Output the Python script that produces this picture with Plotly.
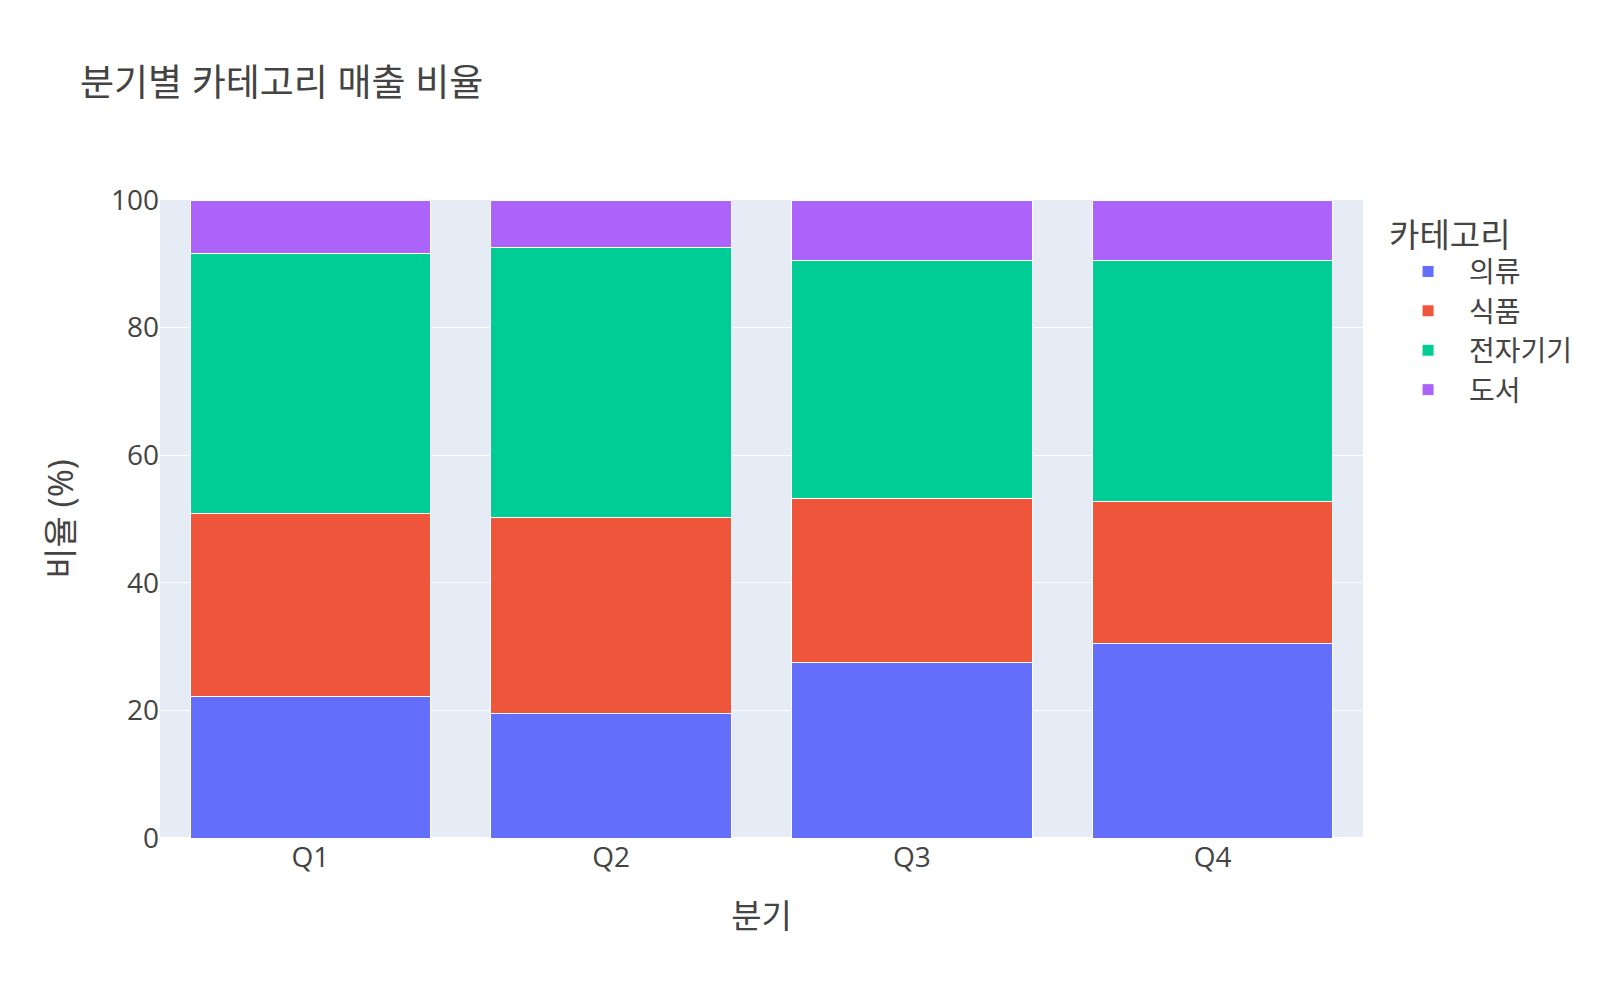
import plotly.graph_objects as go

quarters = ["Q1", "Q2", "Q3", "Q4"]
categories = ["의류", "식품", "전자기기", "도서"]
clothing = [22.2, 19.5, 27.5, 30.5]
food = [28.7, 30.8, 25.7, 22.3]
electronics = [40.7, 42.3, 37.3, 37.7]
books = [8.4, 7.4, 9.5, 9.5]
series = [clothing, food, electronics, books]
colors = ["#636EFA", "#EF553B", "#00CC96", "#AB63FA"]

fig = go.Figure()
for name, vals, c in zip(categories, series, colors):
    fig.add_trace(go.Bar(x=quarters, y=vals, name=name, marker_color=c,
                         marker_line=dict(color="white", width=1)))

fig.update_layout(
    barmode="stack",
    width=1600, height=1000,
    template="plotly",
    font=dict(family="Open Sans, Noto Sans CJK KR, sans-serif", size=28, color="#444"),
    title=dict(text="분기별 카테고리 매출 비율", x=0.05, xanchor="left",
               y=0.917, yanchor="middle", yref="container", font=dict(size=37)),
    xaxis=dict(title=dict(text="분기", font=dict(size=33), standoff=30), tickfont=dict(size=28)),
    yaxis=dict(title=dict(text="비율 (%)", font=dict(size=34), standoff=27), range=[0, 100], dtick=20,
               tickfont=dict(size=28)),
    legend=dict(title=dict(text="카테고리", font=dict(size=33)), font=dict(size=28),
                traceorder="normal", itemwidth=72, y=0.994, yanchor="top"),
    margin=dict(l=160, r=237, t=200, b=162),
)

fig.write_html("out.html")
